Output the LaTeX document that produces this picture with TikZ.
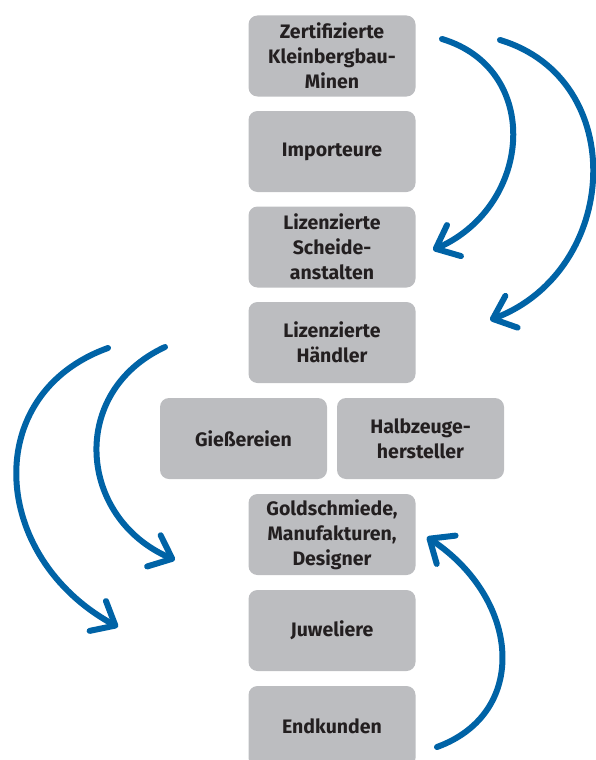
\documentclass[tikz,border=0pt]{standalone}
\usepackage{fontspec}
\setmainfont{Fira Sans}
\usetikzlibrary{arrows.meta}
\definecolor{boxgray}{RGB}{188,189,192}
\definecolor{flowblue}{RGB}{0,99,166}
\definecolor{txt}{RGB}{35,31,32}
\begin{document}
\begin{tikzpicture}[x=1pt,y=-1pt,
  box/.style={fill=boxgray,rounded corners=9pt,minimum width=167pt,minimum height=81pt,
    align=center,font=\fontsize{19.5}{25}\selectfont\bfseries,text=txt,inner sep=0pt},
  flow/.style={draw=flowblue,line width=6pt,line cap=round,
    -{Straight Barb[length=20pt,width=34pt,round]}}]
\clip (0,0) rectangle (596,760);
\node[box] (mine) at (332,56) {Zertifizierte\\Kleinbergbau-\\Minen};
\node[box] (imp) at (332,151.5) {Importeure};
\node[box] (sch) at (332,247) {Lizenzierte\\Scheide-\\anstalten};
\node[box] (hae) at (332,342.5) {Lizenzierte\\Händler};
\node[box] (gie) at (243.5,438.5) {Gießereien};
\node[box] (hal) at (420.5,438.5) {Halbzeuge-\\hersteller};
\node[box] (gol) at (332,534.5) {Goldschmiede,\\Manufakturen,\\Designer};
\node[box] (juw) at (332,630.5) {Juweliere};
\node[box] (end) at (332,726.5) {Endkunden};
\coordinate (a1s) at (442,39);  \coordinate (a1e) at (433,250);
\coordinate (a2s) at (500,40);  \coordinate (a2e) at (490,320);
\coordinate (a3s) at (108,348); \coordinate (a3e) at (118,627);
\coordinate (a4s) at (165,347); \coordinate (a4e) at (175,560);
\coordinate (a5s) at (437,747); \coordinate (a5e) at (427,537);
\draw[flow] (a1s) .. controls (542,69) and (533,205) .. (a1e);
\draw[flow] (a2s) .. controls (630,79) and (620,270) .. (a2e);
\draw[flow] (a3s) .. controls (-20,394) and (-10,557) .. (a3e);
\draw[flow] (a4s) .. controls (68,392) and (78,518) .. (a4e);
\draw[flow] (a5s) .. controls (530,713) and (520,599) .. (a5e);
\end{tikzpicture}
\end{document}
